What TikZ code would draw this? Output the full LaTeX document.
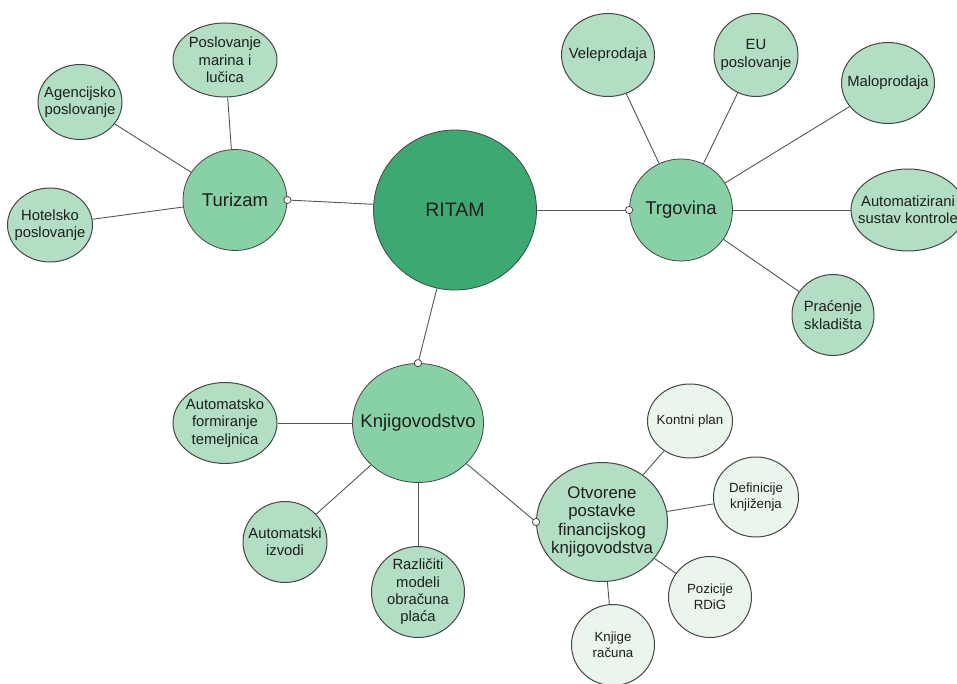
\documentclass[tikz,border=0pt]{standalone}
\usepackage{fontspec}
\setmainfont{Liberation Sans}
\usetikzlibrary{shapes.geometric,arrows.meta}
\definecolor{rootc}{RGB}{59,169,113}
\definecolor{midc}{RGB}{136,208,165}
\definecolor{leafc}{RGB}{178,222,196}
\definecolor{lightc}{RGB}{234,245,236}
\definecolor{txtc}{RGB}{30,30,30}
\definecolor{edgec}{RGB}{70,70,70}
\definecolor{linec}{RGB}{85,85,85}
\begin{document}
\begin{tikzpicture}[x=1pt,y=-1pt,
  bub/.style={ellipse, draw=edgec, line width=0.8pt, inner sep=0pt},
  lt/.style={text=txtc, align=center, inner sep=0pt},
  rootbub/.style={bub, fill=rootc, label={[lt, font=\fontsize{19.5}{22}\selectfont]center:#1}},
  midbub/.style={bub, fill=midc, label={[lt, font=\fontsize{18.5}{21}\selectfont]center:#1}},
  leafbub/.style={bub, fill=leafc, line width=1pt, label={[lt, font=\fontsize{14.8}{17.3}\selectfont]center:#1}},
  bigleaf/.style={bub, fill=leafc, line width=1pt, label={[lt, font=\fontsize{16.8}{18.4}\selectfont]center:#1}},
  lightbub/.style={bub, fill=lightc, line width=1pt, label={[lt, font=\fontsize{13.3}{15.7}\selectfont]center:#1}},
  conn/.style={draw=linec, line width=0.9pt},
  child/.style={conn, -{Circle[fill=white, color=edgec, length=8pt, width=8pt, line width=0.8pt]}, shorten >=-4pt},
]
\useasboundingbox (0,0) rectangle (957,684);

% root
\node[rootbub={RITAM}, minimum width=163, minimum height=160] (ritam) at (455,210) {};

% Turizam cluster
\node[midbub={Turizam}, minimum width=104, minimum height=101] (turizam) at (235,200) {};
\node[leafbub={Poslovanje\\marina i\\lučica}, minimum width=104, minimum height=74] (marina) at (225,60) {};
\node[leafbub={Agencijsko\\poslovanje}, minimum width=84, minimum height=75] (agenc) at (80,102) {};
\node[leafbub={Hotelsko\\poslovanje}, minimum width=85, minimum height=74] (hotel) at (50,225) {};

% Trgovina cluster
\node[midbub={Trgovina}, minimum width=103, minimum height=102] (trgovina) at (681,210) {};
\node[leafbub={Veleprodaja}, minimum width=93, minimum height=83] (vele) at (608,55) {};
\node[leafbub={EU\\poslovanje}, minimum width=84, minimum height=83] (eu) at (756,55) {};
\node[leafbub={Maloprodaja}, minimum width=93, minimum height=81] (malo) at (888,83) {};
\node[leafbub={Automatizirani\\sustav kontrole}, minimum width=114, minimum height=82] (auto) at (908,210) {};
\node[leafbub={Praćenje\\skladišta}, minimum width=82, minimum height=81] (prac) at (833,315) {};

% Knjigovodstvo cluster
\node[midbub={Knjigovodstvo}, minimum width=131, minimum height=119] (knjig) at (418,423) {};
\node[leafbub={Automatsko\\formiranje\\temeljnica}, minimum width=104, minimum height=81] (autof) at (225,423) {};
\node[leafbub={Automatski\\izvodi}, minimum width=84, minimum height=81] (izvodi) at (285,542) {};
\node[leafbub={Različiti\\modeli\\obračuna\\plaća}, minimum width=93, minimum height=91] (razl) at (418,592) {};
\node[bigleaf={Otvorene\\postavke\\financijskog\\knjigovodstva}, minimum width=131, minimum height=119] (otv) at (602,522) {};

% Otvorene cluster
\node[lightbub={Kontni plan}, minimum width=85, minimum height=74] (kontni) at (690,421) {};
\node[lightbub={Definicije\\knjiženja}, minimum width=85, minimum height=80] (defin) at (756,497) {};
\node[lightbub={Pozicije\\RDiG}, minimum width=83, minimum height=81] (poz) at (710,597) {};
\node[lightbub={Knjige\\računa}, minimum width=83, minimum height=81] (knjige) at (613,645) {};

% connectors
\draw[child] (ritam.176) -- (turizam.east);
\draw[child] (ritam) -- (trgovina);
\draw[child] (ritam.-103) -- (knjig.north);
\draw[child] (knjig.-40) -- (otv.180);

\draw[conn] (marina) -- (turizam);
\draw[conn] (agenc) -- (turizam);
\draw[conn] (hotel) -- (turizam);

\draw[conn] (vele) -- (trgovina);
\draw[conn] (eu) -- (trgovina);
\draw[conn] (malo) -- (trgovina);
\draw[conn] (auto) -- (trgovina);
\draw[conn] (prac) -- (trgovina);

\draw[conn] (autof) -- (knjig);
\draw[conn] (izvodi) -- (knjig);
\draw[conn] (razl) -- (knjig);

\draw[conn] (kontni) -- (otv);
\draw[conn] (defin) -- (otv);
\draw[conn] (poz) -- (otv);
\draw[conn] (knjige) -- (otv);
\end{tikzpicture}
\end{document}
